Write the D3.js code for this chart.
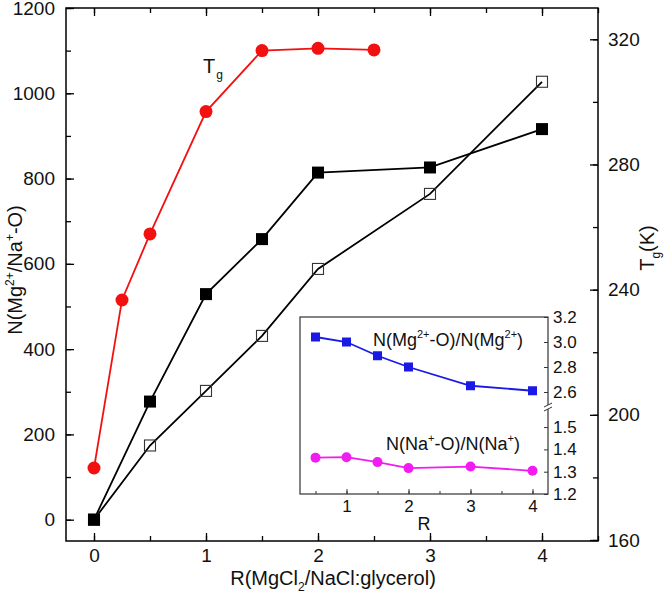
<!DOCTYPE html>
<html><head><meta charset="utf-8">
<script src="https://cdn.jsdelivr.net/npm/d3@7"></script>
<style>body{margin:0;background:#fff}svg text{font-family:"Liberation Sans",Arial,sans-serif}</style>
</head><body>
<svg id="c" width="666" height="603"></svg>
<script>
// ---- data ----
const R = [0, 0.5, 1, 1.5, 2, 3, 4];
const filledN = [0, 277, 529, 658, 814, 826, 916];
const openN = [0, 174, 302, 431, 588, 764, 1027];
const tgR = [0, 0.25, 0.5, 1, 1.5, 2, 2.5];
const tgK = [183, 236.7, 257.8, 296.9, 316.4, 317.1, 316.6];
const insetR = [0.5, 1, 1.5, 2, 3, 4];
const mgRatio = [3.04, 3.00, 2.89, 2.80, 2.65, 2.61];
const naRatio = [1.363, 1.365, 1.343, 1.316, 1.323, 1.304];
const leftTicks = [0, 200, 400, 600, 800, 1000, 1200];
const rightTicks = [160, 200, 240, 280, 320];
const xTicks = [0, 1, 2, 3, 4];
const insetXTicks = [1, 2, 3, 4];
const insetUpperTicks = [2.6, 2.8, 3.0, 3.2];
const insetLowerTicks = [1.2, 1.3, 1.4, 1.5];

const svg = d3.select("#c");
const L = 66, Rt = 598, T = 8, B = 541;
const FS = 20, TFS = 19;
const x = d3.scaleLinear([-0.25, 4.5], [L, Rt]);
const yL = d3.scaleLinear([-50, 1200], [B, T]);
const yR = d3.scaleLinear([160, 330], [540, T]);

function ax(gen, tr) { return svg.append("g").attr("transform", tr).call(gen); }
function style(g) {
  g.select(".domain").remove();
  g.selectAll("line").attr("stroke", "#000").attr("stroke-width", 1.3);
  g.selectAll("text").attr("font-size", TFS).attr("fill", "#111").attr("font-family", "Liberation Sans, Arial, sans-serif");
}
const minorX = d3.range(0, 4.51, 0.5);
// bottom
style(ax(d3.axisTop(x).tickValues(minorX).tickSize(5).tickFormat(""), `translate(0,${B})`));
style(ax(d3.axisBottom(x).tickValues(xTicks).tickSize(-8).tickPadding(8).tickFormat(d3.format("d")), `translate(0,${B})`));
// top
style(ax(d3.axisBottom(x).tickValues(minorX).tickSize(5).tickFormat(""), `translate(0,${T})`));
style(ax(d3.axisBottom(x).tickValues(xTicks).tickSize(8).tickFormat(""), `translate(0,${T})`));
// left
style(ax(d3.axisRight(yL).tickValues(d3.range(0, 1201, 100)).tickSize(5).tickFormat(""), `translate(${L},0)`));
style(ax(d3.axisLeft(yL).tickValues(leftTicks).tickSize(-8).tickPadding(11).tickFormat(d3.format("d")), `translate(${L},0)`));
// right
style(ax(d3.axisLeft(yR).tickValues(d3.range(160, 321, 20)).tickSize(5).tickFormat(""), `translate(${Rt},0)`));
style(ax(d3.axisRight(yR).tickValues(rightTicks).tickSize(-8).tickPadding(10).tickFormat(d3.format("d")), `translate(${Rt},0)`));

svg.append("rect").attr("x", L).attr("y", T).attr("width", Rt - L).attr("height", B - T)
  .attr("fill", "none").attr("stroke", "#000").attr("stroke-width", 1.5);

// series
const line = (xs, ys, sx, sy) => d3.line().x((d, i) => sx(xs[i])).y((d, i) => sy(ys[i]))(ys);
svg.append("path").attr("d", line(R, openN, x, yL)).attr("fill", "none").attr("stroke", "#000").attr("stroke-width", 1.8);
svg.append("path").attr("d", line(R, filledN, x, yL)).attr("fill", "none").attr("stroke", "#000").attr("stroke-width", 1.8);
svg.append("path").attr("d", line(tgR, tgK, x, yR)).attr("fill", "none").attr("stroke", "#f21010").attr("stroke-width", 1.8);

svg.selectAll(".op").data(openN).join("rect")
  .attr("x", (d, i) => x(R[i]) - 5.5).attr("y", d => yL(d) - 5.5).attr("width", 11).attr("height", 11)
  .attr("fill", "none").attr("stroke", "#333").attr("stroke-width", 1.1);
svg.selectAll(".fp").data(filledN).join("rect")
  .attr("x", (d, i) => x(R[i]) - 6).attr("y", d => yL(d) - 6).attr("width", 12).attr("height", 12).attr("fill", "#000");
svg.selectAll(".tg").data(tgK).join("circle")
  .attr("cx", (d, i) => x(tgR[i])).attr("cy", d => yR(d)).attr("r", 6.5).attr("fill", "#f21010");

// Tg label
const tgl = svg.append("text").attr("x", 203).attr("y", 73).attr("font-size", FS).attr("fill", "#111");
tgl.append("tspan").text("T");
tgl.append("tspan").attr("font-size", 12).attr("dy", 6).attr("dx", 1).text("g");

// axis titles
svg.append("text").attr("x", 333).attr("y", 585).attr("text-anchor", "middle").attr("font-size", FS).attr("fill", "#111")
  .call(t => { t.append("tspan").text("R(MgCl"); t.append("tspan").attr("font-size", 12).attr("dy", 6).text("2");
    t.append("tspan").attr("dy", -6).text("/NaCl:glycerol)"); });
svg.append("text").attr("transform", "translate(22,270) rotate(-90)").attr("text-anchor", "middle").attr("font-size", FS).attr("fill", "#111")
  .call(t => { t.append("tspan").text("N(Mg"); t.append("tspan").attr("font-size", 12).attr("dy", -8).text("2+");
    t.append("tspan").attr("dy", 8).text("/Na"); t.append("tspan").attr("font-size", 12).attr("dy", -8).text("+");
    t.append("tspan").attr("dy", 8).text("-O)"); });
svg.append("text").attr("transform", "translate(654,248) rotate(-90)").attr("text-anchor", "middle").attr("font-size", FS).attr("fill", "#111")
  .call(t => { t.append("tspan").text("T"); t.append("tspan").attr("font-size", 12).attr("dy", 6).text("g");
    t.append("tspan").attr("dy", -6).text("(K)"); });

// ---- inset ----
const iL = 300, iR = 548, iT = 317, iB = 494, brk = 407;
const ix = d3.scaleLinear([0.25, 4.25], [iL, iR]);
const iyU = d3.scaleLinear([2.48, 3.2], [brk, iT]);
const iyL = d3.scaleLinear([1.2, 1.59], [iB, brk]);
svg.append("rect").attr("x", iL).attr("y", iT).attr("width", iR - iL).attr("height", iB - iT)
  .attr("fill", "#fff").attr("stroke", "#333").attr("stroke-width", 1.2);
function istyle(g) {
  g.select(".domain").remove();
  g.selectAll("line").attr("stroke", "#333").attr("stroke-width", 1);
  g.selectAll("text").attr("font-size", 17).attr("fill", "#111");
}
istyle(ax(d3.axisTop(ix).tickValues(d3.range(0.5, 4.01, 0.5)).tickSize(3).tickFormat(""), `translate(0,${iB})`));
istyle(ax(d3.axisBottom(ix).tickValues(insetXTicks).tickSize(-5).tickPadding(6).tickFormat(d3.format("d")), `translate(0,${iB})`));
istyle(ax(d3.axisRight(iyU).tickValues(insetUpperTicks).tickSize(-4).tickPadding(5).tickFormat(d3.format(".1f")), `translate(${iR},0)`));
istyle(ax(d3.axisRight(iyL).tickValues(insetLowerTicks).tickSize(-4).tickPadding(5).tickFormat(d3.format(".1f")), `translate(${iR},0)`));
// break mark
svg.append("rect").attr("x", iR - 4).attr("y", brk - 2).attr("width", 8).attr("height", 4).attr("fill", "#fff");
[-2, 2].forEach(o => svg.append("line").attr("x1", iR - 4).attr("y1", brk + o + 2).attr("x2", iR + 4).attr("y2", brk + o - 2)
  .attr("stroke", "#333").attr("stroke-width", 1));

svg.append("path").attr("d", line(insetR, mgRatio, ix, iyU)).attr("fill", "none").attr("stroke", "#1a1ae6").attr("stroke-width", 1.8);
svg.append("path").attr("d", line(insetR, naRatio, ix, iyL)).attr("fill", "none").attr("stroke", "#f01cf0").attr("stroke-width", 1.8);
svg.selectAll(".mg").data(mgRatio).join("rect")
  .attr("x", (d, i) => ix(insetR[i]) - 4.5).attr("y", d => iyU(d) - 4.5).attr("width", 9).attr("height", 9).attr("fill", "#1a1ae6");
svg.selectAll(".na").data(naRatio).join("circle")
  .attr("cx", (d, i) => ix(insetR[i])).attr("cy", d => iyL(d)).attr("r", 5).attr("fill", "#f01cf0");

svg.append("text").attr("x", 373).attr("y", 346).attr("font-size", 18).attr("fill", "#111")
  .call(t => { t.append("tspan").text("N(Mg"); t.append("tspan").attr("font-size", 11).attr("dy", -8).text("2+");
    t.append("tspan").attr("dy", 8).text("-O)/N(Mg"); t.append("tspan").attr("font-size", 11).attr("dy", -8).text("2+");
    t.append("tspan").attr("dy", 8).text(")"); });
svg.append("text").attr("x", 386).attr("y", 450).attr("font-size", 18).attr("fill", "#111")
  .call(t => { t.append("tspan").text("N(Na"); t.append("tspan").attr("font-size", 11).attr("dy", -8).text("+");
    t.append("tspan").attr("dy", 8).text("-O)/N(Na"); t.append("tspan").attr("font-size", 11).attr("dy", -8).text("+");
    t.append("tspan").attr("dy", 8).text(")"); });
svg.append("text").attr("x", 424).attr("y", 530).attr("text-anchor", "middle").attr("font-size", 18).attr("fill", "#111").text("R");
</script>
</body></html>
